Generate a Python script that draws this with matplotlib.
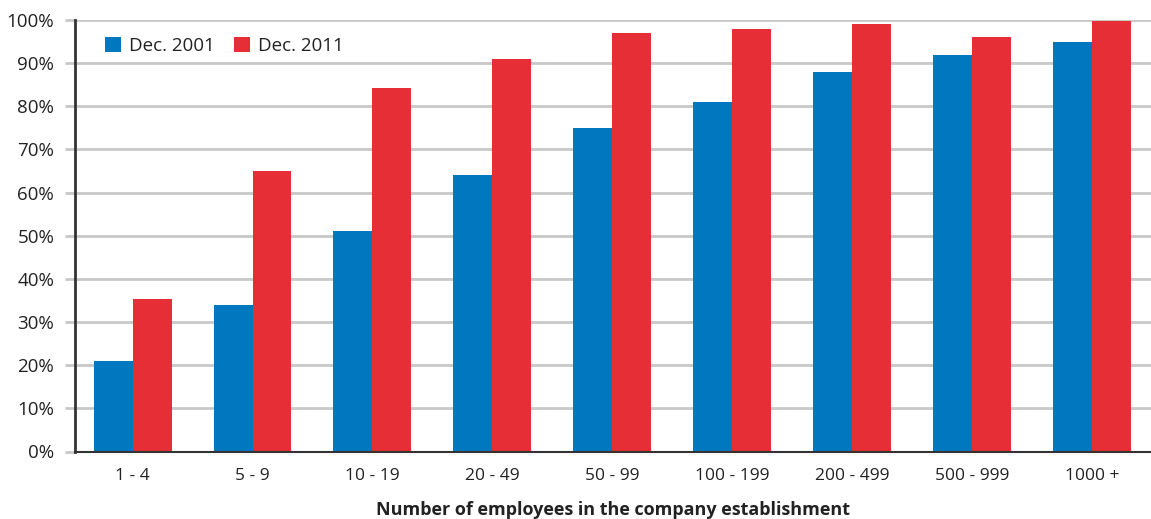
import matplotlib
matplotlib.use("Agg")
import matplotlib.pyplot as plt
import numpy as np

categories = ["1 - 4", "5 - 9", "10 - 19", "20 - 49", "50 - 99",
              "100 - 199", "200 - 499", "500 - 999", "1000 +"]
dec_2001 = [21, 34, 51, 64, 75, 81, 88, 92, 95]
dec_2011 = [35.3, 65, 84.3, 91, 97, 98, 99, 96, 99.8]
series_names = ["Dec. 2001", "Dec. 2011"]
yticks = list(range(0, 101, 10))
ytick_labels = [f"{v}%" for v in yticks]
xlabel = "Number of employees in the company establishment"

plt.rcParams['font.family'] = ['Open Sans', 'DejaVu Sans']
W, H = 1151, 519
fig = plt.figure(figsize=(W / 100, H / 100), dpi=100)
ax = fig.add_axes([75 / W, 1 - 451.5 / H, (1152 - 75) / W, (451.5 - 20) / H])

blue = "#0077BE"
red = "#E52E35"
x = np.arange(len(categories))
bw = 0.325
ax.bar(x - bw / 2, dec_2001, width=bw, color=blue, label=series_names[0], zorder=3)
ax.bar(x + bw / 2, dec_2011, width=bw, color=red, label=series_names[1], zorder=3)

ax.set_xlim(-0.48, 8.5)
ax.set_ylim(0, 100)
ax.set_yticks(yticks)
ax.set_yticklabels(ytick_labels)
ax.set_xticks(x)
ax.set_xticklabels(categories)

txt = "#222222"
ax.tick_params(axis='y', length=7, width=2, color="#c8c8c8", labelsize=13.5,
               labelcolor=txt, pad=8)
ax.tick_params(axis='x', length=0, labelsize=12.5, labelcolor=txt, pad=12)
ax.grid(axis='y', color="#c8c8c8", linewidth=2, zorder=0)
for s in ["top", "right"]:
    ax.spines[s].set_visible(False)
ax.spines["left"].set_color("#333333")
ax.spines["left"].set_linewidth(2)
ax.spines["bottom"].set_color("#333333")
ax.spines["bottom"].set_linewidth(1.5)
ax.spines["left"].set_zorder(4)
ax.spines["bottom"].set_zorder(4)

ax.set_xlabel(xlabel, fontsize=13, fontweight='bold', color=txt, labelpad=12)

leg = ax.legend(loc='upper left', bbox_to_anchor=(0.012, 1.0), ncol=2, frameon=False,
                fontsize=13.5, handlelength=0.85, handleheight=0.85,
                handletextpad=0.45, columnspacing=1.0, labelcolor=txt)

fig.savefig("out.png", dpi=100, facecolor="white")
